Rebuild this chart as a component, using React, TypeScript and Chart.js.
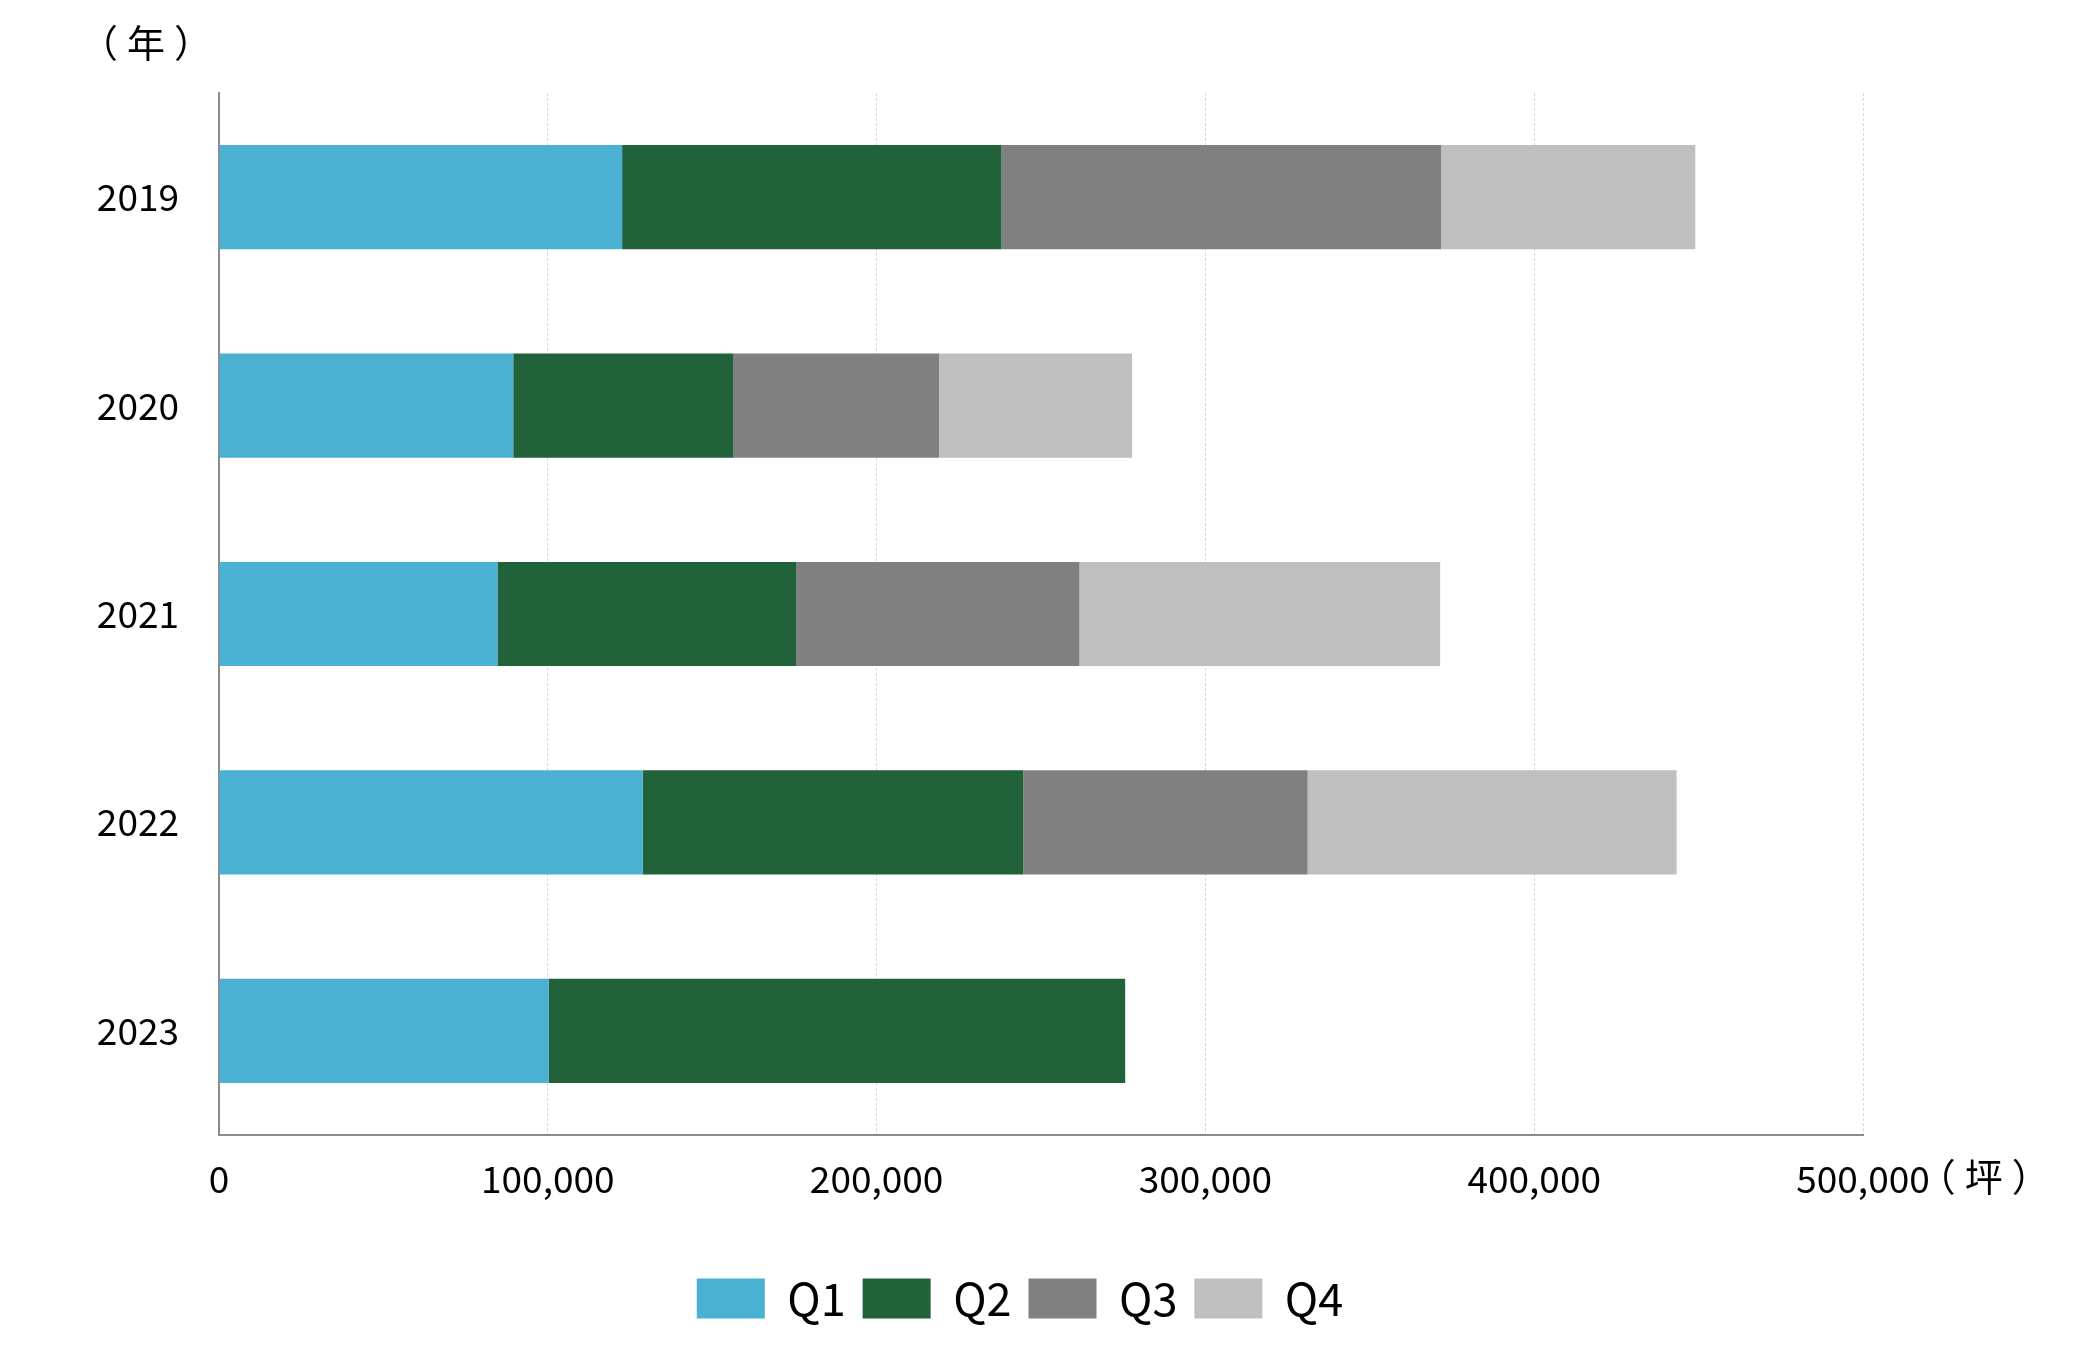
import { useEffect, useRef } from "react";
import { Chart, registerables } from "chart.js";

Chart.register(...registerables);

// Quarterly floor area by year (坪)
const years = ["2019", "2020", "2021", "2022", "2023"];
const q1 = [122600, 89500, 84700, 128900, 100300];
const q2 = [115400, 67000, 90800, 115700, 175300];
const q3 = [133700, 62500, 86200, 86500, null];
const q4 = [77300, 58700, 109700, 112200, null];
const seriesNames = ["Q1", "Q2", "Q3", "Q4"];
const seriesColors = ["#4BB1D3", "#21623A", "#808080", "#BFBFBF"];
const xMax = 500000;
const xStep = 100000;
const yearUnit = "（年）";
const areaUnit = "（坪）";

const FONT = '"Noto Sans CJK JP", "Noto Sans", sans-serif';

// Unit captions next to the axes
const unitLabels = {
  id: "unitLabels",
  afterDraw(chart: any) {
    const { ctx } = chart;
    const xScale = chart.scales.x;
    ctx.save();
    ctx.fillStyle = "#000";
    ctx.textBaseline = "middle";
    ctx.textAlign = "left";
    ctx.font = `37px ${FONT}`;
    const lastX = xScale.getPixelForValue(xMax);
    const w = ctx.measureText(xMax.toLocaleString("en-US")).width;
    ctx.font = `38px ${FONT}`;
    (ctx as any).letterSpacing = "9px";
    ctx.fillText(yearUnit, 80, 43);
    ctx.fillText(areaUnit, lastX + w / 2 - 12, 1177);
    ctx.restore();
  },
};

// Centre the legend on the page rather than on the plot width
const legendCentre = {
  id: "legendCentre",
  beforeDraw(chart: any) {
    const lg = chart.legend;
    if (!lg) return;
    lg.left = 0;
    lg.right = 2040;
    lg.width = 2040;
  },
};

export default function App() {
  const ref = useRef<HTMLCanvasElement | null>(null);

  useEffect(() => {
    if (!ref.current) return;
    const data = [q1, q2, q3, q4];
    const chart = new Chart(ref.current, {
      type: "bar",
      data: {
        labels: years,
        datasets: seriesNames.map((name, i) => ({
          label: name,
          data: data[i] as any,
          backgroundColor: seriesColors[i],
          borderWidth: 0,
          barPercentage: 0.5,
          categoryPercentage: 1,
        })),
      },
      plugins: [unitLabels, legendCentre],
      options: {
        indexAxis: "y",
        animation: false,
        responsive: true,
        maintainAspectRatio: false,
        layout: { padding: { top: 93, right: 213, left: 0, bottom: 23 } },
        plugins: {
          tooltip: { enabled: false },
          legend: {
            position: "bottom",
            labels: {
              boxWidth: 68,
              boxHeight: 40,
              padding: 17,
              color: "#000",
              font: { family: FONT, size: 45 },
            },
          },
        },
        scales: {
          x: {
            stacked: true,
            min: 0,
            max: xMax,
            afterFit: (s: any) => {
              s.height = 124;
            },
            ticks: {
              stepSize: xStep,
              padding: 22,
              color: "#000",
              font: { family: FONT, size: 37 },
              callback: (v: any) => Number(v).toLocaleString("en-US"),
            },
            grid: { color: "#d9d9d9", lineWidth: 1, drawTicks: false },
            border: { color: "#8c8c8c", width: 2, dash: [3, 2] },
          },
          y: {
            stacked: true,
            afterFit: (s: any) => {
              s.width = 219;
            },
            ticks: {
              padding: 40,
              color: "#000",
              font: { family: FONT, size: 37 },
            },
            grid: { display: false, drawTicks: false },
            border: { color: "#8c8c8c", width: 2 },
          },
        },
      },
    });
    return () => chart.destroy();
  }, []);

  return (
    <div style={{ position: "absolute", left: 0, top: 0, width: 2076, height: 1354, background: "#fff" }}>
      <canvas ref={ref} />
    </div>
  );
}
